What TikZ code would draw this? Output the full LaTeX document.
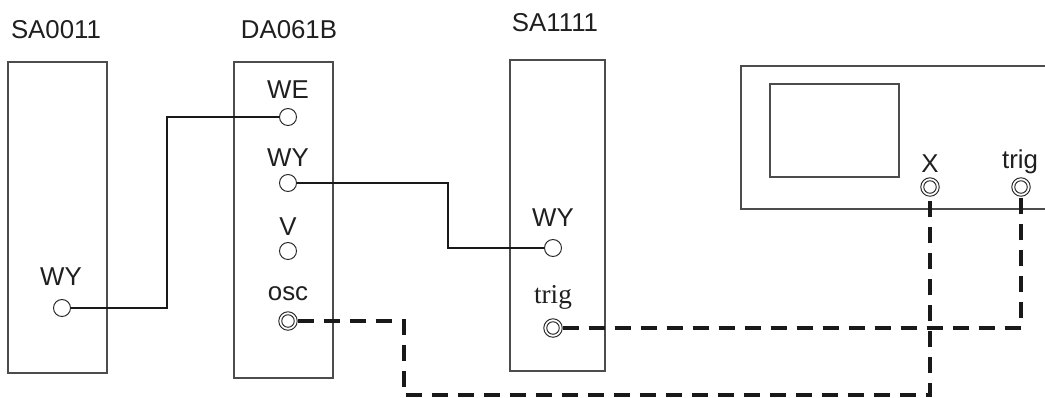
\documentclass[tikz,border=0pt]{standalone}
\usepackage{fontspec}
\setmainfont{Liberation Sans}
\newfontfamily\serifface{Liberation Serif}
\begin{document}
\begin{tikzpicture}[x=0.02cm,y=-0.02cm,
  panel/.style={draw=black!70,line width=0.6pt},
  lbl/.style={font=\fontsize{14.7}{17}\selectfont,text=black!88,inner sep=0pt},
  sock/.style={circle,draw=black!85,line width=0.55pt,minimum size=0.34cm,inner sep=0pt,fill=white},
  dsock/.style={sock,minimum size=0.37cm,path picture={\draw[black!85,line width=0.55pt] (path picture bounding box.center) circle (0.125cm);}},
  wire/.style={draw=black!90,line width=0.95pt},
  dwire/.style={draw=black!90,line width=2.1pt,dash pattern=on 0.32cm off 0.2cm}]
\useasboundingbox (0,0) rectangle (1045,397);
% panels
\draw[panel] (8,62) rectangle (107,373);
\draw[panel] (234,62) rectangle (333,378);
\draw[panel] (510,60) rectangle (605,371);
\draw[panel] (1046,66) -- (741,66) -- (741,209) -- (1046,209);
\draw[panel] (770,84) rectangle (899,177);
% titles
\node[lbl] (t0) at (56,30) {SA0011};
\node[lbl] (t1) at (289,30) {DA061B};
\node[lbl] (t2) at (555,23) {SA1111};
% labels
\node[lbl] (l0) at (61,277) {WY};
\node[lbl] (l1) at (288,90) {WE};
\node[lbl] (l2) at (288,158) {WY};
\node[lbl] (l3) at (288,227) {V};
\node[lbl] (l4) at (288,294) {osc};
\node[lbl] (l5) at (553,218) {WY};
\node[lbl,font=\serifface\fontsize{15.5}{17}\selectfont] (l6) at (553,297) {trig};
\node[lbl] (l7) at (930,164) {X};
\node[lbl] (l8) at (1020,162) {trig};
% sockets
\node[sock] (wy0) at (62,308) {};
\node[sock] (we) at (288,117) {};
\node[sock] (wy1) at (288,183) {};
\node[sock] (v) at (288,251) {};
\node[dsock] (osc) at (288,321) {};
\node[sock] (wy2) at (553,248) {};
\node[dsock] (trig1) at (553,328) {};
\node[dsock] (xin) at (930,187) {};
\node[dsock] (trig2) at (1021,187) {};
% bend points
\coordinate (k1) at (167,200);
\coordinate (k2) at (448,215);
\coordinate (k3) at (404,395);
% wires
\draw[wire] (wy0) -| (k1) |- (we);
\draw[wire] (wy1) -| (k2) |- (wy2);
\draw[dwire] (osc) -| (k3) -| (xin);
\draw[dwire] (trig1) -| (trig2);
\end{tikzpicture}
\end{document}
